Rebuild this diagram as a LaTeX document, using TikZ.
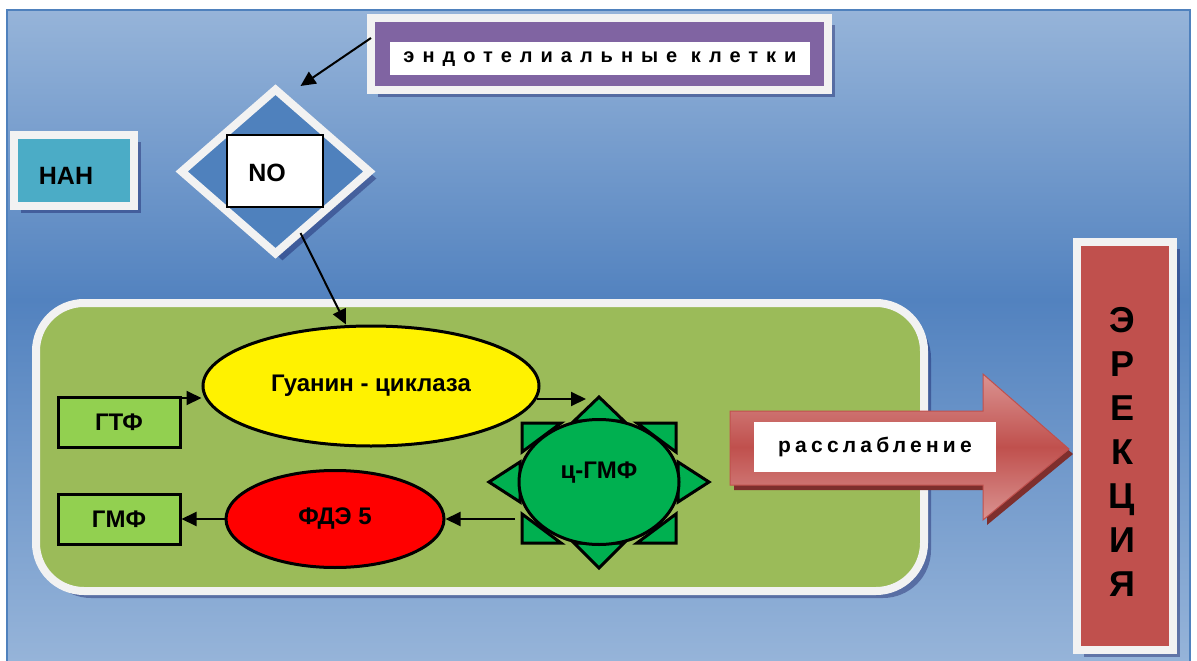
\documentclass[tikz,border=0pt]{standalone}
\usepackage{fontspec}
\setmainfont{Liberation Sans}
\newfontfamily\spacedfont[LetterSpace=40]{Liberation Sans}
\newfontfamily\relaxfont[LetterSpace=20]{Liberation Sans}
\usetikzlibrary{arrows.meta,shapes.geometric,shadows,calc}

\definecolor{bgtop}{HTML}{96B4D9}
\definecolor{bgmid}{HTML}{5282BF}
\definecolor{bgline}{HTML}{4F81BD}
\definecolor{framewhite}{HTML}{F2F2F2}
\definecolor{purp}{HTML}{8064A2}
\definecolor{teal}{HTML}{4BACC6}
\definecolor{diamblue}{HTML}{4F81BD}
\definecolor{regiongreen}{HTML}{9BBB59}
\definecolor{boxgreen}{HTML}{92D050}
\definecolor{sungreen}{HTML}{00B050}
\definecolor{erectred}{HTML}{C0504D}
\definecolor{arrlight}{HTML}{DA9391}
\definecolor{arrshadow}{HTML}{7E2F2D}

\tikzset{
  whiteframe/.style={draw=framewhite, line width=8pt, inner sep=0pt,
    drop shadow={shadow xshift=7pt, shadow yshift=-7pt, fill=black!70!blue, opacity=0.35}},
  blk/.style={draw=black, line width=3pt, inner sep=0pt},
  lbl/.style={inner sep=0pt, font=\bfseries\fontsize{24}{26}\selectfont},
  biglbl/.style={inner sep=0pt, font=\bfseries\fontsize{25}{28}\selectfont},
  conn/.style={line width=2pt, -{Triangle[length=15pt,width=14pt]}},
  suntri/.style={draw=black, line width=3pt, fill=sungreen, line join=miter},
}

\begin{document}
\begin{tikzpicture}[x=1pt,y=-1pt]
\useasboundingbox (0,0) rectangle (1197,661);
% background
\shade[top color=bgtop, bottom color=bgmid] (7,10) rectangle (1190,300);
\shade[top color=bgmid, bottom color=bgtop] (7,300) rectangle (1190,661);
\draw[bgline, line width=2pt] (7,661) -- (7,10) -- (1190,10) -- (1190,661);

% upper part
\node[whiteframe, fill=purp, minimum width=457pt, minimum height=72pt] (endo) at (599.5,54) {};
\node[fill=white, minimum width=420pt, minimum height=33pt, inner sep=0pt,
      font=\spacedfont\bfseries\fontsize{20}{22}\selectfont] (endolbl) at (600,59) {эндотелиальные клетки};

\node[whiteframe, fill=teal, minimum width=120.5pt, minimum height=71pt] (nan) at (74,170.5) {};
\node[biglbl] (nanlbl) at ($(nan)+(-8,5.5)$) {НАН};

\node[diamond, whiteframe, fill=diamblue, minimum width=191pt, minimum height=167pt] (nodiam) at (275.5,171.5) {};
\node[draw=black, line width=1.5pt, fill=white, minimum width=96pt, minimum height=72pt, inner sep=0pt] (no) at (275,171) {};
\node[biglbl] (nolbl) at ($(no)+(-8,2)$) {NO};

% green region
\node[whiteframe, fill=regiongreen, rounded corners=48pt, minimum width=888pt, minimum height=288pt] (region) at (480,447) {};

\node[ellipse, blk, fill=yellow, minimum width=336pt, minimum height=120pt, lbl] (gc) at (371,386) {Гуанин - циклаза};
\node[blk, fill=boxgreen, minimum width=122pt, minimum height=50pt, lbl] (gtf) at (119,422.5) {ГТФ};
\node[blk, fill=boxgreen, minimum width=122pt, minimum height=50pt, lbl] (gmf) at (119,519) {ГМФ};
\node[ellipse, blk, fill=red, minimum width=218pt, minimum height=97pt, lbl] (pde) at (335,519) {ФДЭ 5};

% sun
\coordinate (sun) at (599,482);
\foreach \ax/\ay/\bx/\by/\cx/\cy in {0/-85/-25/-61/25/-61, 0/86/-25/61/25/61,
    -110/0/-79/-20/-79/20, 110/0/79/-20/79/20,
    -77/-59/-38/-59/-77/-30, 77/-59/38/-59/77/-30,
    -77/61/-38/61/-77/32, 77/61/38/61/77/32}
  \draw[suntri, shift={(sun)}] (\ax,\ay) -- (\bx,\by) -- (\cx,\cy) -- cycle;
\node[ellipse, blk, fill=sungreen, minimum width=160pt, minimum height=125pt] (cgmp) at (sun) {};
\node[lbl] (cgmplbl) at ($(cgmp)+(0,-9)$) {ц-ГМФ};

% connectors
\draw[conn] ($(endo.west)+(4,-16)$) -- ($(nodiam.north)+(25,2)$);
\draw[conn] ($(nodiam.south)+(25,-26)$) -- ($(gc.north)+(-25,0)$);
\draw[conn] ($(gtf.north east)+(0,2)$) -- ($(gtf.north east -| gc.west)+(0,2)$);
\draw[conn] ($(gc.east)+(-4,13)$) -- ($(sun)+(-13,-83)$);
\draw[conn] ($(sun)+(-84,37)$) -- (pde.east);
\draw[conn] (pde.west) -- (gmf.east);

% big arrow
\fill[arrshadow, shift={(4,5)}] (730,411) -- (983,411) -- (983,374) -- (1069,449) -- (983,520) -- (983,485) -- (730,485) -- cycle;
\shadedraw[top color=arrlight, bottom color=arrlight, middle color=erectred, draw=erectred, line width=1pt]
  (730,411) -- (983,411) -- (983,374) -- (1069,449) -- (983,520) -- (983,485) -- (730,485) -- cycle;
\node[fill=white, minimum width=242pt, minimum height=50pt, inner sep=0pt,
      font=\relaxfont\bfseries\fontsize{21}{24}\selectfont] (relax) at (875,447) {расслабление};

\node[whiteframe, fill=erectred, minimum width=95.5pt, minimum height=407.5pt] (erect) at (1125,446) {};
\node[inner sep=0pt, align=center, font=\bfseries\fontsize{36}{44}\selectfont] (erectlbl) at ($(erect)+(-3,6)$) {Э\\Р\\Е\\К\\Ц\\И\\Я};
\end{tikzpicture}
\end{document}
